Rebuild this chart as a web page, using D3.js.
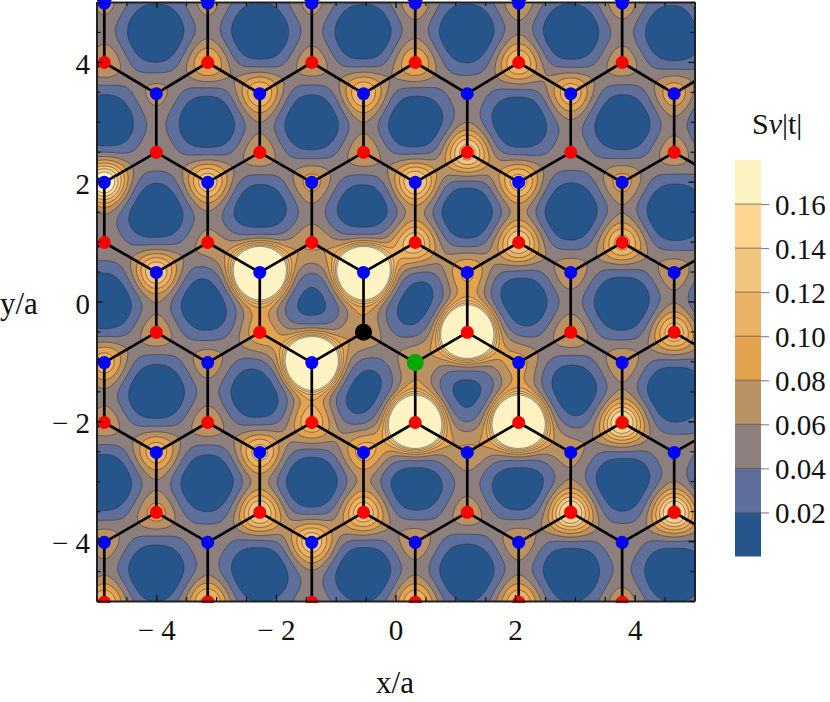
<!DOCTYPE html>
<html>
<head>
<meta charset="utf-8">
<script src="https://cdnjs.cloudflare.com/ajax/libs/d3/7.8.5/d3.min.js"></script>
<style>
  html, body { margin: 0; padding: 0; background: #fff; }
  text { font-family: "Liberation Serif", serif; fill: #111; }
  .tick text { font-size: 29px; }
  .legend-axis .tick text { font-size: 29px; }
</style>
</head>
<body>
<script>
// lattice columns (x/a)
var colX = [-5.73, -4.87, -4.0, -3.14, -2.27, -1.40, -0.535, 0.33, 1.20, 2.06, 2.93, 3.79, 4.66, 5.53];
// rows from top to bottom (y/a), which sublattice, and which columns they use (0 = even, 1 = odd)
var rowY    = [5.49, 4.98, 3.99, 3.47, 2.49, 1.99, 0.985, 0.485, -0.515, -1.02, -2.02, -2.52, -3.52, -4.02, -5.02, -5.52];
var rowKind = ["r", "b", "r", "b", "r", "b", "r", "b", "r", "b", "r", "b", "r", "b", "r", "b"];
var rowCols = [0, 1, 1, 0, 0, 1, 1, 0, 0, 1, 1, 0, 0, 1, 1, 0];
// peak height over the background at every site, one list per row
var rowPeaks = [
  [0, 0.02, 0, 0.03, 0.02, 0.02, 0.04],
  [0.02, 0.02, 0.02, 0.03, 0.03, 0.03, 0.25],
  [0.04, 0.07, 0.03, 0.07, 0.10, 0.03, 0],
  [0, 0.02, 0.10, 0.10, 0, 0.09, 0.06],
  [0.05, 0, 0.03, 0.03, 0.14, 0, 0.03],
  [0.20, 0.12, 0.05, 0.13, 0.11, 0.05, 0],
  [0, 0, 0, 0.10, 0.13, 0.11, 0],
  [0, 0.13, 0.80, 0.80, 0.05, 0.03, 0.03],
  [0, 0.03, 0.02, 0, 0.80, 0.04, 0.12],
  [0.09, 0.03, 0.80, 0, 0.01, 0.03, 0],
  [0.03, 0.03, 0.07, 0.80, 0.80, 0.17, 0],
  [0, 0.09, 0.11, 0.06, 0, 0, 0],
  [0, 0.05, 0.13, 0.12, 0.03, 0.17, 0.17],
  [0.03, 0, 0.12, 0.03, 0.03, 0, 0],
  [0.10, 0.11, 0, 0.10, 0.10, 0.03, 0],
  [0, 0, 0, 0, 0, 0, 0]
];
var blackSite = [-0.535, -0.515];
var greenSite = [0.33, -1.02];

var levels = [0.02, 0.04, 0.06, 0.08, 0.10, 0.12, 0.14, 0.16];
var levelColors = ["#26558c", "#5f6f9b", "#8c7f7d", "#b99163", "#e3a24e", "#ebb266", "#f3c47c", "#fcd690", "#fdf2c2"];
var majorTicks = [-4, -2, 0, 2, 4];
var minorTicks = [-5, -4.5, -3.5, -3, -2.5, -1.5, -1, -0.5, 0.5, 1, 1.5, 2.5, 3, 3.5, 4.5, 5];

var width = 830, height = 702;
var x = d3.scaleLinear().domain([-5, 5]).range([96.5, 694.5]);
var y = d3.scaleLinear().domain([-5, 5]).range([601, 2]);
var legendY = d3.scaleLinear().domain([0, 0.18]).range([556.5, 160]);

var svg = d3.select("body").append("svg").attr("width", width).attr("height", height).style("display", "block");
svg.append("clipPath").attr("id", "plot-clip").append("rect")
  .attr("x", x(-5)).attr("y", y(5)).attr("width", x(5) - x(-5)).attr("height", y(-5) - y(5));
svg.append("clipPath").attr("id", "site-clip").append("rect")
  .attr("x", x(-5)).attr("y", -5).attr("width", x(5) - x(-5)).attr("height", y(-5) + 7);

// flatten rows to sites
var sites = [];
rowY.forEach(function(ry, r) {
  rowPeaks[r].forEach(function(amp, i) {
    sites.push({x: colX[i * 2 + rowCols[r]], y: ry, kind: rowKind[r], amp: amp, pull: 0});
  });
});

var bonds = [];
for (var a = 0; a < sites.length; a++) {
  for (var b = a + 1; b < sites.length; b++) {
    var dx = sites[a].x - sites[b].x, dy = sites[a].y - sites[b].y;
    if (dx * dx + dy * dy < 1.3) {
      bonds.push({source: sites[a], target: sites[b]});
      sites[a].pull += sites[b].amp;
      sites[b].pull += sites[a].amp;
    }
  }
}

// contour field: kernels around the read peaks and along the bonds
var lo = -5.3, step = 0.025, n = Math.round(10.6 / step) + 1;
var field = new Float64Array(n * n);
function addKernel(px, py, amp, s) {
  var reach = Math.sqrt(s * 7);
  var i0 = Math.max(0, Math.floor((px - reach - lo) / step)), i1 = Math.min(n - 1, Math.ceil((px + reach - lo) / step));
  var j0 = Math.max(0, Math.floor((py - reach - lo) / step)), j1 = Math.min(n - 1, Math.ceil((py + reach - lo) / step));
  for (var j = j0; j <= j1; j++) {
    for (var i = i0; i <= i1; i++) {
      var ex = lo + i * step - px, ey = lo + j * step - py;
      field[j * n + i] += amp * Math.exp(-(ex * ex + ey * ey) / s);
    }
  }
}
sites.forEach(function(s) {
  addKernel(s.x, s.y, 0.042 + 0.012 * s.pull, 0.19);
  if (s.amp > 0.5) {
    addKernel(s.x, s.y, s.amp * 0.95, 0.09);
    addKernel(s.x, s.y, s.amp * 0.08, 0.35);
  } else if (s.amp > 0) {
    addKernel(s.x, s.y, s.amp * 0.7, 0.13);
  }
});
bonds.forEach(function(l) {
  addKernel((l.source.x + l.target.x) / 2, (l.source.y + l.target.y) / 2, 0.019 + 0.006 * (l.source.amp + l.target.amp), 0.14);
});

var contours = d3.contours().size([n, n]).thresholds(levels)(field);
var path = d3.geoPath(d3.geoTransform({
  point: function(px, py) {
    this.stream.point(x(lo + (px - 0.5) * step), y(lo + (py - 0.5) * step));
  }
}));

var plot = svg.append("g").attr("clip-path", "url(#plot-clip)");
plot.append("rect")
  .attr("x", x(-5)).attr("y", y(5)).attr("width", x(5) - x(-5)).attr("height", y(-5) - y(5))
  .attr("fill", levelColors[0]);
plot.selectAll(".band")
  .data(contours)
  .enter().append("path")
  .attr("class", "band")
  .attr("d", path)
  .attr("fill", function(d, i) { return levelColors[i + 1]; })
  .attr("stroke", "#2a2a33")
  .attr("stroke-opacity", 0.55)
  .attr("stroke-width", 0.9);

// top axis goes under the lattice, the top dots sit over it
function frameAxis(axis, translate, labels, padding) {
  var g = svg.append("g").attr("transform", translate);
  g.call(axis.tickValues(majorTicks).tickSizeInner(-6).tickSizeOuter(0).tickPadding(padding || 3).tickFormat(labels || ""));
  g.select(".domain").attr("fill", "none").attr("stroke", "#222").attr("stroke-width", 2);
  g.selectAll(".tick line").attr("stroke", "#111").attr("stroke-width", 1.4);
  g.selectAll(".tick text").attr("fill", "#111").attr("font-family", "Liberation Serif, serif");
  return g;
}
function minorAxis(axis, translate) {
  var g = svg.append("g").attr("transform", translate);
  g.call(axis.tickValues(minorTicks).tickSizeInner(-4).tickSizeOuter(0).tickFormat(""));
  g.select(".domain").remove();
  g.selectAll(".tick line").attr("stroke", "#111").attr("stroke-width", 1.2);
}
frameAxis(d3.axisTop(x), "translate(0," + y(5) + ")");
minorAxis(d3.axisTop(x), "translate(0," + y(5) + ")");

var lattice = svg.append("g").attr("clip-path", "url(#site-clip)");
lattice.selectAll(".bond")
  .data(bonds)
  .enter().append("line")
  .attr("class", "bond")
  .attr("x1", function(d) { return x(d.source.x); })
  .attr("y1", function(d) { return y(d.source.y); })
  .attr("x2", function(d) { return x(d.target.x); })
  .attr("y2", function(d) { return y(d.target.y); })
  .attr("stroke", "#000")
  .attr("stroke-width", 2.7);

function isSite(d, s) { return d.x === s[0] && d.y === s[1]; }
lattice.selectAll(".site")
  .data(sites)
  .enter().append("circle")
  .attr("class", "site")
  .attr("cx", function(d) { return x(d.x); })
  .attr("cy", function(d) { return y(d.y); })
  .attr("r", function(d) { return isSite(d, blackSite) || isSite(d, greenSite) ? 8.5 : 6.5; })
  .attr("fill", function(d) {
    if (isSite(d, blackSite)) return "#000";
    if (isSite(d, greenSite)) return "#00a800";
    return d.kind === "r" ? "#ff0000" : "#0000ff";
  });

function tickLabel(v) { return v < 0 ? "\u2212\u2005" + Math.abs(v) : "" + v; }

frameAxis(d3.axisBottom(x), "translate(0," + y(-5) + ")", tickLabel, 18);
minorAxis(d3.axisBottom(x), "translate(0," + y(-5) + ")");

var left = frameAxis(d3.axisLeft(y), "translate(" + x(-5) + ",0)", tickLabel, 6.5);
minorAxis(d3.axisLeft(y), "translate(" + x(-5) + ",0)");
left.selectAll(".tick text").attr("dy", "0.4em");

frameAxis(d3.axisRight(y), "translate(" + x(5) + ",0)");
minorAxis(d3.axisRight(y), "translate(" + x(5) + ",0)");

svg.append("text").attr("x", 395).attr("y", 693).attr("text-anchor", "middle").attr("font-size", 31).text("x/a");
svg.append("text").attr("x", 0).attr("y", 314).attr("font-size", 31).text("y/a");

// legend
var title = svg.append("text").attr("x", 752).attr("y", 134).attr("font-size", 30);
title.append("tspan").text("S");
title.append("tspan").attr("font-style", "italic").text("\u03bd");
title.append("tspan").text("|t|");

var legendEdges = [0].concat(levels).concat([0.18]);
svg.selectAll(".swatch")
  .data(levelColors)
  .enter().append("rect")
  .attr("class", "swatch")
  .attr("x", 735)
  .attr("width", 26)
  .attr("y", function(d, i) { return legendY(legendEdges[i + 1]); })
  .attr("height", function(d, i) { return legendY(legendEdges[i]) - legendY(legendEdges[i + 1]); })
  .attr("fill", function(d) { return d; });
svg.selectAll(".swatch-line")
  .data(levels)
  .enter().append("line")
  .attr("class", "swatch-line")
  .attr("x1", 735).attr("x2", 761)
  .attr("y1", function(d) { return legendY(d); })
  .attr("y2", function(d) { return legendY(d); })
  .attr("stroke", "#2a2a33")
  .attr("stroke-opacity", 0.55);

var legendAxis = svg.append("g").attr("class", "legend-axis").attr("transform", "translate(761,0)");
legendAxis.call(d3.axisRight(legendY).tickValues(levels).tickSizeInner(8).tickSizeOuter(0).tickPadding(6).tickFormat(d3.format(".2f")));
legendAxis.select(".domain").remove();
legendAxis.selectAll(".tick line").attr("stroke", "#777");
legendAxis.selectAll(".tick text").attr("fill", "#111").attr("font-family", "Liberation Serif, serif").attr("dy", "0.36em");
</script>
</body>
</html>
